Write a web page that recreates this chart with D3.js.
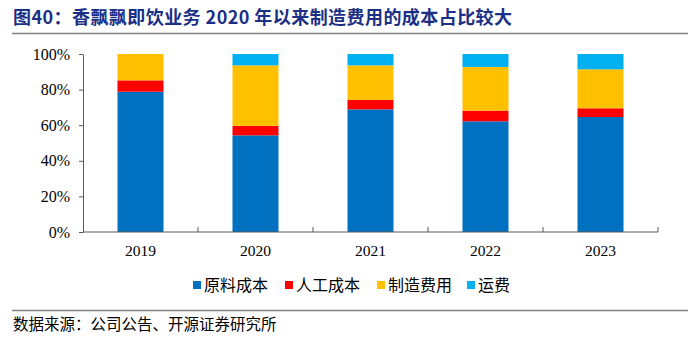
<!DOCTYPE html>
<html>
<head>
<meta charset="utf-8">
<script src="https://cdn.jsdelivr.net/npm/d3@7"></script>
<style>
  body { margin: 0; background: #fff; overflow: hidden; }
  svg { display: block; }
</style>
</head>
<body>
<div id="chart"></div>
<script>
// cost structure of the ready-to-drink business, share of total cost (%)
const years = ["2019", "2020", "2021", "2022", "2023"];
const seriesNames = ["原料成本", "人工成本", "制造费用", "运费"];
const rawMaterial = [78.8, 54.3, 68.9, 62.2, 64.6];
const labour = [6.4, 5.3, 5.3, 6.0, 4.9];
const manufacturing = [14.8, 34.0, 19.4, 24.5, 21.9];
const freight = [0, 6.4, 6.4, 7.3, 8.6];
const yTicks = [0, 20, 40, 60, 80, 100];
const colors = ["#0070C0", "#FF0000", "#FFC000", "#00B0F0"];

const width = 700, height = 350;
const margin = { top: 54, right: 42, bottom: 118, left: 83 };
const innerWidth = width - margin.left - margin.right;
const innerHeight = height - margin.top - margin.bottom;

const cjk = "'Noto Sans CJK SC', sans-serif";
const serif = "'Liberation Serif', 'Times New Roman', serif";

const svg = d3.select("#chart").append("svg")
  .attr("width", width)
  .attr("height", height);

// title + rule lines
svg.append("text")
  .attr("x", 13)
  .attr("y", 24)
  .attr("fill", "#1B2F85")
  .attr("font-family", cjk)
  .attr("font-weight", "bold")
  .attr("font-size", 18)
  .attr("textLength", 499)
  .attr("lengthAdjust", "spacing")
  .text("图40：香飘飘即饮业务 2020 年以来制造费用的成本占比较大");

svg.append("line")
  .attr("x1", 12).attr("x2", 688)
  .attr("y1", 33.5).attr("y2", 33.5)
  .attr("stroke", "#808080").attr("stroke-width", 1.5);

svg.append("line")
  .attr("x1", 12).attr("x2", 688)
  .attr("y1", 310.5).attr("y2", 310.5)
  .attr("stroke", "#808080").attr("stroke-width", 1.5);

svg.append("text")
  .attr("x", 13)
  .attr("y", 330)
  .attr("fill", "#000")
  .attr("font-family", cjk)
  .attr("font-size", 15.5)
  .text("数据来源：公司公告、开源证券研究所");

const chart = svg.append("g")
  .attr("transform", `translate(${margin.left},${margin.top})`);

const table = years.map((y, i) => ({
  year: y,
  [seriesNames[0]]: rawMaterial[i],
  [seriesNames[1]]: labour[i],
  [seriesNames[2]]: manufacturing[i],
  [seriesNames[3]]: freight[i]
}));

const stacked = d3.stack().keys(seriesNames)(table);

const xScale = d3.scaleBand().domain(years).range([0, innerWidth]).paddingInner(0.6).paddingOuter(0.3);
const yScale = d3.scaleLinear().domain([0, 100]).range([innerHeight, 0]);
const xBoundary = d3.scaleLinear().domain([0, years.length]).range([0, innerWidth]);

chart.selectAll("g.series")
  .data(stacked)
  .join("g")
  .attr("class", "series")
  .attr("fill", (d, i) => colors[i])
  .selectAll("rect")
  .data(d => d)
  .join("rect")
  .attr("x", d => xScale(d.data.year))
  .attr("width", xScale.bandwidth())
  .attr("y", d => yScale(d[1]))
  .attr("height", d => yScale(d[0]) - yScale(d[1]));

// y axis
const yAxis = chart.append("g")
  .call(d3.axisLeft(yScale).tickValues(yTicks).tickFormat(d => d + "%").tickSize(4).tickSizeOuter(0))
  .attr("font-family", serif)
  .attr("font-size", 16);
yAxis.select(".domain").attr("stroke", "#595959");
yAxis.selectAll(".tick line").attr("stroke", "#595959");
yAxis.selectAll("text")
  .attr("x", -13)
  .attr("fill", "#000");

// x axis: baseline with upward ticks at band boundaries
const xAxis = chart.append("g")
  .attr("transform", `translate(0,${innerHeight})`)
  .attr("font-family", serif)
  .attr("font-size", 15.5);
xAxis.append("line")
  .attr("x1", 0).attr("x2", innerWidth)
  .attr("y1", 0).attr("y2", 0)
  .attr("stroke", "#595959");
xAxis.selectAll("line.tick")
  .data(d3.range(1, years.length + 1))
  .join("line")
  .attr("class", "tick")
  .attr("x1", d => xBoundary(d)).attr("x2", d => xBoundary(d))
  .attr("y1", 0).attr("y2", -5)
  .attr("stroke", "#595959");
xAxis.selectAll("text")
  .data(years)
  .join("text")
  .attr("x", d => xScale(d) + xScale.bandwidth() / 2)
  .attr("y", 24)
  .attr("text-anchor", "middle")
  .attr("fill", "#000")
  .text(d => d);

// legend
const legendX = [193, 285, 377, 467];
const legend = svg.append("g")
  .attr("transform", "translate(0,285)")
  .attr("font-family", cjk)
  .attr("font-size", 16);
const items = legend.selectAll("g")
  .data(seriesNames)
  .join("g")
  .attr("transform", (d, i) => `translate(${legendX[i]},0)`);
items.append("rect")
  .attr("x", 0).attr("y", -4)
  .attr("width", 8).attr("height", 8)
  .attr("fill", (d, i) => colors[i]);
items.append("text")
  .attr("x", 11)
  .attr("y", 5.5)
  .attr("fill", "#000")
  .text(d => d);
</script>
</body>
</html>
